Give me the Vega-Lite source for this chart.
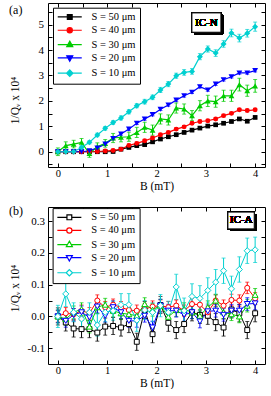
{
"$schema": "https://vega.github.io/schema/vega-lite/v6.json",
"background": "white",
"padding": {"left": 8, "top": 2, "right": 0, "bottom": 0},
"spacing": 12,
"resolve": {"scale": {"color": "independent", "fill": "independent", "stroke": "independent", "shape": "independent"}, "legend": {"color": "independent", "fill": "independent", "stroke": "independent", "shape": "independent"}},
"datasets": {
"a": [
{"B":0,"S":"50","v":0,"e":0.05},{"B":0.16,"S":"50","v":0,"e":0.05},{"B":0.32,"S":"50","v":0,"e":0.05},{"B":0.48,"S":"50","v":0,"e":0.05},{"B":0.64,"S":"50","v":0,"e":0.05},{"B":0.8,"S":"50","v":0,"e":0.05},{"B":0.96,"S":"50","v":0,"e":0.05},{"B":1.12,"S":"50","v":0.01,"e":0.05},{"B":1.28,"S":"50","v":0.1,"e":0.05},{"B":1.44,"S":"50","v":0.17,"e":0.05},{"B":1.6,"S":"50","v":0.24,"e":0.05},{"B":1.76,"S":"50","v":0.28,"e":0.05},{"B":1.92,"S":"50","v":0.39,"e":0.05},{"B":2.08,"S":"50","v":0.5,"e":0.05},{"B":2.24,"S":"50","v":0.59,"e":0.05},{"B":2.4,"S":"50","v":0.67,"e":0.05},{"B":2.56,"S":"50","v":0.76,"e":0.05},{"B":2.72,"S":"50","v":0.85,"e":0.05},{"B":2.88,"S":"50","v":0.93,"e":0.05},{"B":3.04,"S":"50","v":1.01,"e":0.05},{"B":3.2,"S":"50","v":1.06,"e":0.05},{"B":3.36,"S":"50","v":1.12,"e":0.05},{"B":3.52,"S":"50","v":1.19,"e":0.05},{"B":3.68,"S":"50","v":1.29,"e":0.05},{"B":3.84,"S":"50","v":1.2,"e":0.05},{"B":4,"S":"50","v":1.35,"e":0.05},
{"B":0,"S":"40","v":0,"e":0.05},{"B":0.16,"S":"40","v":0,"e":0.05},{"B":0.32,"S":"40","v":0,"e":0.05},{"B":0.48,"S":"40","v":0,"e":0.05},{"B":0.64,"S":"40","v":0,"e":0.05},{"B":0.8,"S":"40","v":0.01,"e":0.05},{"B":0.96,"S":"40","v":0.03,"e":0.05},{"B":1.12,"S":"40","v":0.05,"e":0.05},{"B":1.28,"S":"40","v":0.1,"e":0.05},{"B":1.44,"S":"40","v":0.25,"e":0.05},{"B":1.6,"S":"40","v":0.33,"e":0.05},{"B":1.76,"S":"40","v":0.43,"e":0.05},{"B":1.92,"S":"40","v":0.54,"e":0.05},{"B":2.08,"S":"40","v":0.67,"e":0.05},{"B":2.24,"S":"40","v":0.76,"e":0.05},{"B":2.4,"S":"40","v":0.89,"e":0.05},{"B":2.56,"S":"40","v":0.98,"e":0.05},{"B":2.72,"S":"40","v":1.12,"e":0.05},{"B":2.88,"S":"40","v":1.19,"e":0.05},{"B":3.04,"S":"40","v":1.22,"e":0.05},{"B":3.2,"S":"40","v":1.29,"e":0.05},{"B":3.36,"S":"40","v":1.42,"e":0.05},{"B":3.52,"S":"40","v":1.51,"e":0.05},{"B":3.68,"S":"40","v":1.65,"e":0.05},{"B":3.84,"S":"40","v":1.62,"e":0.05},{"B":4,"S":"40","v":1.65,"e":0.05},
{"B":0,"S":"30","v":0,"e":0.15},{"B":0.16,"S":"30","v":0.24,"e":0.15},{"B":0.32,"S":"30","v":0.3,"e":0.15},{"B":0.48,"S":"30","v":0.37,"e":0.15},{"B":0.64,"S":"30","v":-0.07,"e":0.15},{"B":0.8,"S":"30","v":0.2,"e":0.15},{"B":0.96,"S":"30","v":0.33,"e":0.15},{"B":1.12,"S":"30","v":0.54,"e":0.18},{"B":1.28,"S":"30","v":0.57,"e":0.18},{"B":1.44,"S":"30","v":0.59,"e":0.18},{"B":1.6,"S":"30","v":0.76,"e":0.2},{"B":1.76,"S":"30","v":0.96,"e":0.2},{"B":1.92,"S":"30","v":0.85,"e":0.2},{"B":2.08,"S":"30","v":1.29,"e":0.2},{"B":2.24,"S":"30","v":1.25,"e":0.2},{"B":2.4,"S":"30","v":1.72,"e":0.2},{"B":2.56,"S":"30","v":1.68,"e":0.2},{"B":2.72,"S":"30","v":1.42,"e":0.2},{"B":2.88,"S":"30","v":1.81,"e":0.2},{"B":3.04,"S":"30","v":2.0,"e":0.22},{"B":3.2,"S":"30","v":1.97,"e":0.22},{"B":3.36,"S":"30","v":2.2,"e":0.22},{"B":3.52,"S":"30","v":2.2,"e":0.22},{"B":3.68,"S":"30","v":2.64,"e":0.25},{"B":3.84,"S":"30","v":2.4,"e":0.22},{"B":4,"S":"30","v":2.59,"e":0.25},
{"B":0,"S":"20","v":0,"e":0.05},{"B":0.16,"S":"20","v":0,"e":0.05},{"B":0.32,"S":"20","v":0,"e":0.05},{"B":0.48,"S":"20","v":0,"e":0.05},{"B":0.64,"S":"20","v":0.04,"e":0.05},{"B":0.8,"S":"20","v":0.15,"e":0.05},{"B":0.96,"S":"20","v":0.3,"e":0.05},{"B":1.12,"S":"20","v":0.52,"e":0.05},{"B":1.28,"S":"20","v":0.7,"e":0.05},{"B":1.44,"S":"20","v":0.89,"e":0.05},{"B":1.6,"S":"20","v":1.12,"e":0.05},{"B":1.76,"S":"20","v":1.29,"e":0.05},{"B":1.92,"S":"20","v":1.46,"e":0.05},{"B":2.08,"S":"20","v":1.67,"e":0.05},{"B":2.24,"S":"20","v":1.84,"e":0.05},{"B":2.4,"S":"20","v":2.03,"e":0.05},{"B":2.56,"S":"20","v":2.2,"e":0.05},{"B":2.72,"S":"20","v":2.34,"e":0.05},{"B":2.88,"S":"20","v":2.56,"e":0.05},{"B":3.04,"S":"20","v":2.43,"e":0.05},{"B":3.2,"S":"20","v":2.66,"e":0.05},{"B":3.36,"S":"20","v":2.83,"e":0.05},{"B":3.52,"S":"20","v":2.95,"e":0.05},{"B":3.68,"S":"20","v":3.1,"e":0.05},{"B":3.84,"S":"20","v":3.1,"e":0.05},{"B":4,"S":"20","v":3.19,"e":0.05},
{"B":0,"S":"10","v":0,"e":0.06},{"B":0.16,"S":"10","v":0,"e":0.06},{"B":0.32,"S":"10","v":0,"e":0.06},{"B":0.48,"S":"10","v":0.17,"e":0.06},{"B":0.64,"S":"10","v":0.37,"e":0.06},{"B":0.8,"S":"10","v":0.66,"e":0.07},{"B":0.96,"S":"10","v":0.92,"e":0.07},{"B":1.12,"S":"10","v":1.15,"e":0.07},{"B":1.28,"S":"10","v":1.33,"e":0.08},{"B":1.44,"S":"10","v":1.57,"e":0.08},{"B":1.6,"S":"10","v":1.81,"e":0.08},{"B":1.76,"S":"10","v":1.97,"e":0.09},{"B":1.92,"S":"10","v":2.14,"e":0.09},{"B":2.08,"S":"10","v":2.43,"e":0.1},{"B":2.24,"S":"10","v":2.66,"e":0.1},{"B":2.4,"S":"10","v":2.99,"e":0.1},{"B":2.56,"S":"10","v":3.12,"e":0.11},{"B":2.72,"S":"10","v":3.16,"e":0.11},{"B":2.88,"S":"10","v":3.74,"e":0.12},{"B":3.04,"S":"10","v":4.04,"e":0.12},{"B":3.2,"S":"10","v":3.88,"e":0.13},{"B":3.36,"S":"10","v":4.24,"e":0.13},{"B":3.52,"S":"10","v":4.67,"e":0.15},{"B":3.68,"S":"10","v":4.47,"e":0.15},{"B":3.84,"S":"10","v":4.66,"e":0.15},{"B":4,"S":"10","v":4.92,"e":0.18}
],
"b": [
{"B":0,"S":"50","v":0,"e":0.027},{"B":0.16,"S":"50","v":-0.019,"e":0.027},{"B":0.32,"S":"50","v":-0.038,"e":0.027},{"B":0.48,"S":"50","v":-0.04,"e":0.027},{"B":0.64,"S":"50","v":-0.04,"e":0.027},{"B":0.8,"S":"50","v":-0.051,"e":0.027},{"B":0.96,"S":"50","v":-0.032,"e":0.027},{"B":1.12,"S":"50","v":-0.03,"e":0.027},{"B":1.28,"S":"50","v":-0.035,"e":0.027},{"B":1.44,"S":"50","v":-0.024,"e":0.027},{"B":1.6,"S":"50","v":-0.08,"e":0.027},{"B":1.76,"S":"50","v":0.02,"e":0.027},{"B":1.92,"S":"50","v":-0.056,"e":0.027},{"B":2.08,"S":"50","v":0.036,"e":0.027},{"B":2.24,"S":"50","v":-0.02,"e":0.027},{"B":2.4,"S":"50","v":-0.043,"e":0.027},{"B":2.56,"S":"50","v":-0.024,"e":0.027},{"B":2.72,"S":"50","v":0.013,"e":0.027},{"B":2.88,"S":"50","v":0.005,"e":0.027},{"B":3.04,"S":"50","v":0.002,"e":0.027},{"B":3.2,"S":"50","v":-0.018,"e":0.027},{"B":3.36,"S":"50","v":-0.035,"e":0.027},{"B":3.52,"S":"50","v":0.022,"e":0.027},{"B":3.68,"S":"50","v":0.01,"e":0.027},{"B":3.84,"S":"50","v":-0.043,"e":0.027},{"B":4,"S":"50","v":0.01,"e":0.027},
{"B":0,"S":"40","v":0,"e":0.018},{"B":0.16,"S":"40","v":0.01,"e":0.018},{"B":0.32,"S":"40","v":0.007,"e":0.018},{"B":0.48,"S":"40","v":0.018,"e":0.018},{"B":0.64,"S":"40","v":0.01,"e":0.018},{"B":0.8,"S":"40","v":0.05,"e":0.018},{"B":0.96,"S":"40","v":0.029,"e":0.018},{"B":1.12,"S":"40","v":0.037,"e":0.018},{"B":1.28,"S":"40","v":0.029,"e":0.018},{"B":1.44,"S":"40","v":0.02,"e":0.018},{"B":1.6,"S":"40","v":0.018,"e":0.018},{"B":1.76,"S":"40","v":0.023,"e":0.018},{"B":1.92,"S":"40","v":0.031,"e":0.018},{"B":2.08,"S":"40","v":0.034,"e":0.018},{"B":2.24,"S":"40","v":0.029,"e":0.018},{"B":2.4,"S":"40","v":0.034,"e":0.018},{"B":2.56,"S":"40","v":0.018,"e":0.018},{"B":2.72,"S":"40","v":0.039,"e":0.018},{"B":2.88,"S":"40","v":0.037,"e":0.018},{"B":3.04,"S":"40","v":0.013,"e":0.018},{"B":3.2,"S":"40","v":0.05,"e":0.018},{"B":3.36,"S":"40","v":0.034,"e":0.018},{"B":3.52,"S":"40","v":0.052,"e":0.018},{"B":3.68,"S":"40","v":0.05,"e":0.018},{"B":3.84,"S":"40","v":0.09,"e":0.018},{"B":4,"S":"40","v":0.057,"e":0.018},
{"B":0,"S":"30","v":0,"e":0.02},{"B":0.16,"S":"30","v":-0.008,"e":0.02},{"B":0.32,"S":"30","v":0.013,"e":0.02},{"B":0.48,"S":"30","v":0.023,"e":0.02},{"B":0.64,"S":"30","v":-0.032,"e":0.02},{"B":0.8,"S":"30","v":0.029,"e":0.02},{"B":0.96,"S":"30","v":0.037,"e":0.02},{"B":1.12,"S":"30","v":0.018,"e":0.02},{"B":1.28,"S":"30","v":0.01,"e":0.02},{"B":1.44,"S":"30","v":0.007,"e":0.02},{"B":1.6,"S":"30","v":0.002,"e":0.02},{"B":1.76,"S":"30","v":0.039,"e":0.02},{"B":1.92,"S":"30","v":0.021,"e":0.02},{"B":2.08,"S":"30","v":0.034,"e":0.02},{"B":2.24,"S":"30","v":-0.001,"e":0.02},{"B":2.4,"S":"30","v":0.02,"e":0.02},{"B":2.56,"S":"30","v":0.023,"e":0.02},{"B":2.72,"S":"30","v":0.013,"e":0.02},{"B":2.88,"S":"30","v":0.002,"e":0.02},{"B":3.04,"S":"30","v":0.029,"e":0.02},{"B":3.2,"S":"30","v":0.05,"e":0.02},{"B":3.36,"S":"30","v":0.013,"e":0.02},{"B":3.52,"S":"30","v":0.007,"e":0.02},{"B":3.68,"S":"30","v":0,"e":0.02},{"B":3.84,"S":"30","v":0.034,"e":0.02},{"B":4,"S":"30","v":0.068,"e":0.02},
{"B":0,"S":"20","v":0,"e":0.02},{"B":0.16,"S":"20","v":-0.014,"e":0.02},{"B":0.32,"S":"20","v":0.005,"e":0.02},{"B":0.48,"S":"20","v":0.013,"e":0.02},{"B":0.64,"S":"20","v":-0.003,"e":0.02},{"B":0.8,"S":"20","v":0.031,"e":0.02},{"B":0.96,"S":"20","v":0.002,"e":0.02},{"B":1.12,"S":"20","v":0.029,"e":0.02},{"B":1.28,"S":"20","v":0.013,"e":0.02},{"B":1.44,"S":"20","v":-0.014,"e":0.02},{"B":1.6,"S":"20","v":-0.014,"e":0.02},{"B":1.76,"S":"20","v":0.002,"e":0.02},{"B":1.92,"S":"20","v":-0.035,"e":0.02},{"B":2.08,"S":"20","v":0.034,"e":0.02},{"B":2.24,"S":"20","v":0.018,"e":0.02},{"B":2.4,"S":"20","v":0.018,"e":0.02},{"B":2.56,"S":"20","v":0.005,"e":0.02},{"B":2.72,"S":"20","v":0.013,"e":0.02},{"B":2.88,"S":"20","v":-0.016,"e":0.02},{"B":3.04,"S":"20","v":0.016,"e":0.02},{"B":3.2,"S":"20","v":0.018,"e":0.02},{"B":3.36,"S":"20","v":0.005,"e":0.02},{"B":3.52,"S":"20","v":0.018,"e":0.02},{"B":3.68,"S":"20","v":0.018,"e":0.02},{"B":3.84,"S":"20","v":0.039,"e":0.02},{"B":4,"S":"20","v":0.041,"e":0.02},
{"B":0,"S":"10","v":0,"e":0.035},{"B":0.16,"S":"10","v":0.071,"e":0.04},{"B":0.32,"S":"10","v":0.013,"e":0.03},{"B":0.48,"S":"10","v":-0.008,"e":0.03},{"B":0.64,"S":"10","v":0.013,"e":0.03},{"B":0.8,"S":"10","v":-0.027,"e":0.035},{"B":0.96,"S":"10","v":0.013,"e":0.03},{"B":1.12,"S":"10","v":0.018,"e":0.03},{"B":1.28,"S":"10","v":0.037,"e":0.035},{"B":1.44,"S":"10","v":0.037,"e":0.035},{"B":1.6,"S":"10","v":-0.012,"e":0.035},{"B":1.76,"S":"10","v":0.02,"e":0.03},{"B":1.92,"S":"10","v":0.013,"e":0.03},{"B":2.08,"S":"10","v":0.034,"e":0.035},{"B":2.24,"S":"10","v":0.013,"e":0.035},{"B":2.4,"S":"10","v":0.093,"e":0.04},{"B":2.56,"S":"10","v":0.018,"e":0.04},{"B":2.72,"S":"10","v":0.063,"e":0.04},{"B":2.88,"S":"10","v":0.057,"e":0.04},{"B":3.04,"S":"10","v":0.082,"e":0.04},{"B":3.2,"S":"10","v":0.108,"e":0.04},{"B":3.36,"S":"10","v":0.144,"e":0.04},{"B":3.52,"S":"10","v":0.087,"e":0.04},{"B":3.68,"S":"10","v":0.148,"e":0.04},{"B":3.84,"S":"10","v":0.207,"e":0.04},{"B":4,"S":"10","v":0.21,"e":0.04}
]
},
"vconcat": [
{
"width": 217, "height": 164,
"data": {"name": "a"},
"resolve": {"axis": {"x": "independent", "y": "independent"}},
"layer": [
{"mark": {"type": "rect", "color": "black"},
 "encoding": {"x": {"datum": -0.059, "type": "quantitative", "scale": {"domain": [-0.2, 4.2], "nice": false, "zero": false}, "axis": null}, "x2": {"datum": 1.49}, "y": {"datum": 5.58, "type": "quantitative", "scale": {"domain": [-0.6, 5.85], "nice": false, "zero": false}, "axis": null}, "y2": {"datum": 2.93}}},
{"mark": {"type": "rect", "color": "black"},
 "encoding": {"x": {"datum": 2.76, "type": "quantitative", "scale": {"domain": [-0.2, 4.2], "nice": false, "zero": false}, "axis": null}, "x2": {"datum": 3.35}, "y": {"datum": 5.38, "type": "quantitative", "scale": {"domain": [-0.6, 5.85], "nice": false, "zero": false}, "axis": null}, "y2": {"datum": 4.62}}},
{"mark": {"type": "rect", "fill": "white", "stroke": "black", "strokeWidth": 1},
 "encoding": {"x": {"datum": 2.718, "type": "quantitative", "scale": {"domain": [-0.2, 4.2], "nice": false, "zero": false}, "axis": null}, "x2": {"datum": 3.306}, "y": {"datum": 5.46, "type": "quantitative", "scale": {"domain": [-0.6, 5.85], "nice": false, "zero": false}, "axis": null}, "y2": {"datum": 4.7}}},
{"mark": {"type": "text", "text": "IC-N", "font": "Liberation Serif", "fontSize": 11, "color": "black", "align": "center", "baseline": "middle"},
 "encoding": {"x": {"datum": 3.012, "type": "quantitative", "scale": {"domain": [-0.2, 4.2], "nice": false, "zero": false}, "axis": null}, "y": {"datum": 5.08, "type": "quantitative", "scale": {"domain": [-0.6, 5.85], "nice": false, "zero": false}, "axis": null}}},
{"mark": {"type": "line", "strokeWidth": 1.2},
 "encoding": {
  "x": {"field": "B", "type": "quantitative", "scale": {"domain": [-0.2, 4.2], "nice": false, "zero": false},
        "axis": {"orient": "bottom", "values": [0, 0.5, 1, 1.5, 2, 2.5, 3, 3.5, 4], "labelExpr": "datum.value % 1 == 0 ? format(datum.value, 'd') : ''", "tickSize": -4, "labelPadding": 5, "labelFont": "Liberation Serif", "labelFontSize": 10.5, "title": "B (mT)", "titleFont": "Liberation Serif", "titleFontSize": 11.5, "titleY": 13, "titleBaseline": "top"}},
  "y": {"field": "v", "type": "quantitative", "scale": {"domain": [-0.6, 5.85], "nice": false, "zero": false},
        "axis": {"orient": "left", "values": [-0.5, 0, 0.5, 1, 1.5, 2, 2.5, 3, 3.5, 4, 4.5, 5, 5.5], "labelExpr": "datum.value % 1 == 0 ? format(datum.value, 'd') : ''", "tickSize": -4, "labelPadding": 8.5, "labelFont": "Liberation Serif", "labelFontSize": 11, "title": "1/Qᵥ x 10⁴", "titleFont": "Liberation Serif", "titleFontSize": 11.5, "titleX": -28, "titleY": 97, "titleAngle": -90, "titleBaseline": "bottom", "titleAlign": "center"}},
  "color": {"field": "S", "type": "nominal", "scale": {"domain": ["10", "20", "30", "40", "50"], "range": ["#00d0d0", "#0000ff", "#00cc00", "#ff0000", "#000000"]}, "legend": null}}},
{"mark": {"type": "errorbar", "ticks": {"size": 4, "thickness": 1}, "thickness": 1},
 "encoding": {
  "x": {"field": "B", "type": "quantitative", "scale": {"domain": [-0.2, 4.2], "nice": false, "zero": false}, "axis": null},
  "y": {"field": "v", "type": "quantitative", "scale": {"domain": [-0.6, 5.85], "nice": false, "zero": false}, "axis": null},
  "yError": {"field": "e"},
  "color": {"field": "S", "type": "nominal", "scale": {"domain": ["10", "20", "30", "40", "50"], "range": ["#00d0d0", "#0000ff", "#00cc00", "#ff0000", "#000000"]}, "legend": null}}},
{"transform": [{"filter": "datum.S == '50'"}], "mark": {"type": "point", "shape": "square", "size": 22, "filled": true, "opacity": 1},
 "encoding": {"x": {"field": "B", "type": "quantitative", "scale": {"domain": [-0.2, 4.2], "nice": false, "zero": false}, "axis": null}, "y": {"field": "v", "type": "quantitative", "scale": {"domain": [-0.6, 5.85], "nice": false, "zero": false}, "axis": null}, "color": {"field": "S", "type": "nominal", "scale": {"domain": ["10", "20", "30", "40", "50"], "range": ["#00d0d0", "#0000ff", "#00cc00", "#ff0000", "#000000"]}, "legend": null}}},
{"transform": [{"filter": "datum.S == '40'"}], "mark": {"type": "point", "shape": "circle", "size": 24, "filled": true, "opacity": 1},
 "encoding": {"x": {"field": "B", "type": "quantitative", "scale": {"domain": [-0.2, 4.2], "nice": false, "zero": false}, "axis": null}, "y": {"field": "v", "type": "quantitative", "scale": {"domain": [-0.6, 5.85], "nice": false, "zero": false}, "axis": null}, "color": {"field": "S", "type": "nominal", "scale": {"domain": ["10", "20", "30", "40", "50"], "range": ["#00d0d0", "#0000ff", "#00cc00", "#ff0000", "#000000"]}, "legend": null}}},
{"transform": [{"filter": "datum.S == '30'"}], "mark": {"type": "point", "shape": "triangle-up", "size": 34, "filled": true, "opacity": 1},
 "encoding": {"x": {"field": "B", "type": "quantitative", "scale": {"domain": [-0.2, 4.2], "nice": false, "zero": false}, "axis": null}, "y": {"field": "v", "type": "quantitative", "scale": {"domain": [-0.6, 5.85], "nice": false, "zero": false}, "axis": null}, "color": {"field": "S", "type": "nominal", "scale": {"domain": ["10", "20", "30", "40", "50"], "range": ["#00d0d0", "#0000ff", "#00cc00", "#ff0000", "#000000"]}, "legend": null}}},
{"transform": [{"filter": "datum.S == '20'"}], "mark": {"type": "point", "shape": "triangle-down", "size": 34, "filled": true, "opacity": 1},
 "encoding": {"x": {"field": "B", "type": "quantitative", "scale": {"domain": [-0.2, 4.2], "nice": false, "zero": false}, "axis": null}, "y": {"field": "v", "type": "quantitative", "scale": {"domain": [-0.6, 5.85], "nice": false, "zero": false}, "axis": null}, "color": {"field": "S", "type": "nominal", "scale": {"domain": ["10", "20", "30", "40", "50"], "range": ["#00d0d0", "#0000ff", "#00cc00", "#ff0000", "#000000"]}, "legend": null}}},
{"transform": [{"filter": "datum.S == '10'"}], "mark": {"type": "point", "shape": "diamond", "size": 36, "filled": true, "opacity": 1},
 "encoding": {"x": {"field": "B", "type": "quantitative", "scale": {"domain": [-0.2, 4.2], "nice": false, "zero": false}, "axis": null}, "y": {"field": "v", "type": "quantitative", "scale": {"domain": [-0.6, 5.85], "nice": false, "zero": false}, "axis": null}, "color": {"field": "S", "type": "nominal", "scale": {"domain": ["10", "20", "30", "40", "50"], "range": ["#00d0d0", "#0000ff", "#00cc00", "#ff0000", "#000000"]}, "legend": null}}},
{"transform": [{"filter": "datum.B > 99"}],
 "mark": {"type": "point", "filled": true, "opacity": 1},
 "encoding": {
  "x": {"field": "B", "type": "quantitative", "scale": {"domain": [-0.2, 4.2], "nice": false, "zero": false}, "axis": {"orient": "top", "values": [0, 0.5, 1, 1.5, 2, 2.5, 3, 3.5, 4], "labels": false, "tickSize": -4, "title": "(a)", "titleX": -39.4, "titleY": 1.5, "titleAngle": 0, "titleAlign": "left", "titleBaseline": "top", "titleFont": "Liberation Serif", "titleFontSize": 12}},
  "y": {"field": "v", "type": "quantitative", "scale": {"domain": [-0.6, 5.85], "nice": false, "zero": false}, "axis": {"orient": "right", "values": [-0.5, 0, 0.5, 1, 1.5, 2, 2.5, 3, 3.5, 4, 4.5, 5, 5.5], "labels": false, "tickSize": -4, "title": null}},
  "fill": {"field": "S", "type": "nominal", "scale": {"domain": ["50", "40", "30", "20", "10"], "range": ["#000000", "#ff0000", "#00cc00", "#0000ff", "#00d0d0"]},
    "legend": {"orient": "none", "legendX": 5, "legendY": 4.7, "title": null, "labelExpr": "'S = ' + datum.label + ' μm'", "symbolSize": 64, "symbolStrokeWidth": 1.2, "symbolOffset": 7.5, "labelOffset": 16.6, "labelFont": "Liberation Serif", "labelFontSize": 10.5, "labelColor": "black", "rowPadding": 2.3, "padding": 4, "strokeColor": "black", "fillColor": "white", "symbolOpacity": 1}},
  "stroke": {"field": "S", "type": "nominal", "scale": {"domain": ["50", "40", "30", "20", "10"], "range": ["#000000", "#ff0000", "#00cc00", "#0000ff", "#00d0d0"]},
    "legend": {"orient": "none", "legendX": 5, "legendY": 4.7, "title": null, "labelExpr": "'S = ' + datum.label + ' μm'", "symbolSize": 64, "symbolStrokeWidth": 1.2, "symbolOffset": 7.5, "labelOffset": 16.6, "labelFont": "Liberation Serif", "labelFontSize": 10.5, "labelColor": "black", "rowPadding": 2.3, "padding": 4, "strokeColor": "black", "fillColor": "white", "symbolOpacity": 1}},
  "shape": {"field": "S", "type": "nominal", "scale": {"domain": ["50", "40", "30", "20", "10"], "range": ["M-3,0H-0.6M0.6,0H3M-0.6,-0.6H0.6V0.6H-0.6Z", "M-3,0H-0.65M0.65,0H3M0.65,0A0.65,0.65,0,1,1,-0.65,0A0.65,0.65,0,1,1,0.65,0Z", "M-3,0H-0.45M0.45,0H3M0,-0.85L0.75,0.5H-0.75Z", "M-3,0H-0.45M0.45,0H3M0,0.85L0.75,-0.5H-0.75Z", "M-3,0H-0.8M0.8,0H3M0,-0.8L0.8,0L0,0.8L-0.8,0Z"]},
    "legend": {"orient": "none", "legendX": 5, "legendY": 4.7, "title": null, "labelExpr": "'S = ' + datum.label + ' μm'", "symbolSize": 64, "symbolStrokeWidth": 1.2, "symbolOffset": 7.5, "labelOffset": 16.6, "labelFont": "Liberation Serif", "labelFontSize": 10.5, "labelColor": "black", "rowPadding": 2.3, "padding": 4, "strokeColor": "black", "fillColor": "white", "symbolOpacity": 1}}}}
]
},
{
"width": 217, "height": 157,
"data": {"name": "b"},
"resolve": {"axis": {"x": "independent", "y": "independent"}},
"layer": [
{"mark": {"type": "rect", "color": "black"},
 "encoding": {"x": {"datum": -0.063, "type": "quantitative", "scale": {"domain": [-0.2, 4.2], "nice": false, "zero": false}, "axis": null}, "x2": {"datum": 1.49}, "y": {"datum": 0.335, "type": "quantitative", "scale": {"domain": [-0.15, 0.345], "nice": false, "zero": false}, "axis": null}, "y2": {"datum": 0.124}}},
{"mark": {"type": "rect", "color": "black"},
 "encoding": {"x": {"datum": 3.49, "type": "quantitative", "scale": {"domain": [-0.2, 4.2], "nice": false, "zero": false}, "axis": null}, "x2": {"datum": 4.02}, "y": {"datum": 0.3227, "type": "quantitative", "scale": {"domain": [-0.15, 0.345], "nice": false, "zero": false}, "axis": null}, "y2": {"datum": 0.2697}}},
{"mark": {"type": "rect", "fill": "white", "stroke": "black", "strokeWidth": 1},
 "encoding": {"x": {"datum": 3.448, "type": "quantitative", "scale": {"domain": [-0.2, 4.2], "nice": false, "zero": false}, "axis": null}, "x2": {"datum": 3.982}, "y": {"datum": 0.329, "type": "quantitative", "scale": {"domain": [-0.15, 0.345], "nice": false, "zero": false}, "axis": null}, "y2": {"datum": 0.276}}},
{"mark": {"type": "text", "text": "IC-A", "font": "Liberation Serif", "fontSize": 11, "color": "black", "align": "center", "baseline": "middle"},
 "encoding": {"x": {"datum": 3.715, "type": "quantitative", "scale": {"domain": [-0.2, 4.2], "nice": false, "zero": false}, "axis": null}, "y": {"datum": 0.3025, "type": "quantitative", "scale": {"domain": [-0.15, 0.345], "nice": false, "zero": false}, "axis": null}}},
{"mark": {"type": "line", "strokeWidth": 1},
 "encoding": {
  "x": {"field": "B", "type": "quantitative", "scale": {"domain": [-0.2, 4.2], "nice": false, "zero": false},
        "axis": {"orient": "bottom", "values": [0, 0.5, 1, 1.5, 2, 2.5, 3, 3.5, 4], "labelExpr": "datum.value % 1 == 0 ? format(datum.value, 'd') : ''", "tickSize": -4, "labelPadding": 5, "labelFont": "Liberation Serif", "labelFontSize": 10.5, "title": "B (mT)", "titleFont": "Liberation Serif", "titleFontSize": 11.5, "titleY": 13, "titleBaseline": "top"}},
  "y": {"field": "v", "type": "quantitative", "scale": {"domain": [-0.15, 0.345], "nice": false, "zero": false},
        "axis": {"orient": "left", "values": [-0.1, -0.05, 0, 0.05, 0.1, 0.15, 0.2, 0.25, 0.3], "labelExpr": "abs(datum.value*10 - round(datum.value*10)) < 0.001 ? (datum.value < -0.001 ? '-' : '') + format(abs(datum.value), '.1f') : ''", "tickSize": -4, "labelPadding": 7.5, "labelFont": "Liberation Serif", "labelFontSize": 11, "title": "1/Qᵥ x 10⁴", "titleFont": "Liberation Serif", "titleFontSize": 11.5, "titleX": -28, "titleY": 81, "titleAngle": -90, "titleBaseline": "bottom", "titleAlign": "center"}},
  "color": {"field": "S", "type": "nominal", "scale": {"domain": ["10", "20", "30", "40", "50"], "range": ["#00d0d0", "#0000ff", "#00cc00", "#ff0000", "#000000"]}, "legend": null}}},
{"mark": {"type": "errorbar", "ticks": {"size": 4, "thickness": 1}, "thickness": 1},
 "encoding": {
  "x": {"field": "B", "type": "quantitative", "scale": {"domain": [-0.2, 4.2], "nice": false, "zero": false}, "axis": null},
  "y": {"field": "v", "type": "quantitative", "scale": {"domain": [-0.15, 0.345], "nice": false, "zero": false}, "axis": null},
  "yError": {"field": "e"},
  "color": {"field": "S", "type": "nominal", "scale": {"domain": ["10", "20", "30", "40", "50"], "range": ["#00d0d0", "#0000ff", "#00cc00", "#ff0000", "#000000"]}, "legend": null}}},
{"transform": [{"filter": "datum.S == '50'"}], "mark": {"type": "point", "shape": "square", "size": 24, "filled": false, "fill": "white", "strokeWidth": 1, "opacity": 1},
 "encoding": {"x": {"field": "B", "type": "quantitative", "scale": {"domain": [-0.2, 4.2], "nice": false, "zero": false}, "axis": null}, "y": {"field": "v", "type": "quantitative", "scale": {"domain": [-0.15, 0.345], "nice": false, "zero": false}, "axis": null}, "color": {"field": "S", "type": "nominal", "scale": {"domain": ["10", "20", "30", "40", "50"], "range": ["#00d0d0", "#0000ff", "#00cc00", "#ff0000", "#000000"]}, "legend": null}}},
{"transform": [{"filter": "datum.S == '40'"}], "mark": {"type": "point", "shape": "circle", "size": 26, "filled": false, "fill": "white", "strokeWidth": 1, "opacity": 1},
 "encoding": {"x": {"field": "B", "type": "quantitative", "scale": {"domain": [-0.2, 4.2], "nice": false, "zero": false}, "axis": null}, "y": {"field": "v", "type": "quantitative", "scale": {"domain": [-0.15, 0.345], "nice": false, "zero": false}, "axis": null}, "color": {"field": "S", "type": "nominal", "scale": {"domain": ["10", "20", "30", "40", "50"], "range": ["#00d0d0", "#0000ff", "#00cc00", "#ff0000", "#000000"]}, "legend": null}}},
{"transform": [{"filter": "datum.S == '30'"}], "mark": {"type": "point", "shape": "triangle-up", "size": 34, "filled": false, "fill": "white", "strokeWidth": 1, "opacity": 1},
 "encoding": {"x": {"field": "B", "type": "quantitative", "scale": {"domain": [-0.2, 4.2], "nice": false, "zero": false}, "axis": null}, "y": {"field": "v", "type": "quantitative", "scale": {"domain": [-0.15, 0.345], "nice": false, "zero": false}, "axis": null}, "color": {"field": "S", "type": "nominal", "scale": {"domain": ["10", "20", "30", "40", "50"], "range": ["#00d0d0", "#0000ff", "#00cc00", "#ff0000", "#000000"]}, "legend": null}}},
{"transform": [{"filter": "datum.S == '20'"}], "mark": {"type": "point", "shape": "triangle-down", "size": 34, "filled": false, "fill": "white", "strokeWidth": 1, "opacity": 1},
 "encoding": {"x": {"field": "B", "type": "quantitative", "scale": {"domain": [-0.2, 4.2], "nice": false, "zero": false}, "axis": null}, "y": {"field": "v", "type": "quantitative", "scale": {"domain": [-0.15, 0.345], "nice": false, "zero": false}, "axis": null}, "color": {"field": "S", "type": "nominal", "scale": {"domain": ["10", "20", "30", "40", "50"], "range": ["#00d0d0", "#0000ff", "#00cc00", "#ff0000", "#000000"]}, "legend": null}}},
{"transform": [{"filter": "datum.S == '10'"}], "mark": {"type": "point", "shape": "diamond", "size": 38, "filled": false, "fill": "white", "strokeWidth": 1, "opacity": 1},
 "encoding": {"x": {"field": "B", "type": "quantitative", "scale": {"domain": [-0.2, 4.2], "nice": false, "zero": false}, "axis": null}, "y": {"field": "v", "type": "quantitative", "scale": {"domain": [-0.15, 0.345], "nice": false, "zero": false}, "axis": null}, "color": {"field": "S", "type": "nominal", "scale": {"domain": ["10", "20", "30", "40", "50"], "range": ["#00d0d0", "#0000ff", "#00cc00", "#ff0000", "#000000"]}, "legend": null}}},
{"transform": [{"filter": "datum.B > 99"}],
 "mark": {"type": "point", "filled": false, "opacity": 1},
 "encoding": {
  "x": {"field": "B", "type": "quantitative", "scale": {"domain": [-0.2, 4.2], "nice": false, "zero": false}, "axis": {"orient": "top", "values": [0, 0.5, 1, 1.5, 2, 2.5, 3, 3.5, 4], "labels": false, "tickSize": -4, "title": "(b)", "titleX": -39.4, "titleY": -1.5, "titleAngle": 0, "titleAlign": "left", "titleBaseline": "top", "titleFont": "Liberation Serif", "titleFontSize": 12}},
  "y": {"field": "v", "type": "quantitative", "scale": {"domain": [-0.15, 0.345], "nice": false, "zero": false}, "axis": {"orient": "right", "values": [-0.1, -0.05, 0, 0.05, 0.1, 0.15, 0.2, 0.25, 0.3], "labels": false, "tickSize": -4, "title": null}},
  "stroke": {"field": "S", "type": "nominal", "scale": {"domain": ["50", "40", "30", "20", "10"], "range": ["#000000", "#ff0000", "#00cc00", "#0000ff", "#00d0d0"]},
    "legend": {"orient": "none", "legendX": 4.6, "legendY": 1.1, "title": null, "labelExpr": "'S = ' + datum.label + ' μm'", "symbolSize": 64, "symbolStrokeWidth": 1.2, "symbolOffset": 7.5, "labelOffset": 16.6, "labelFont": "Liberation Serif", "labelFontSize": 10.5, "labelColor": "black", "rowPadding": 2.1, "padding": 4, "strokeColor": "black", "fillColor": "white", "symbolOpacity": 1}},
  "shape": {"field": "S", "type": "nominal", "scale": {"domain": ["50", "40", "30", "20", "10"], "range": ["M-3,0H-0.6M0.6,0H3M-0.6,-0.6H0.6V0.6H-0.6Z", "M-3,0H-0.65M0.65,0H3M0.65,0A0.65,0.65,0,1,1,-0.65,0A0.65,0.65,0,1,1,0.65,0Z", "M-3,0H-0.45M0.45,0H3M0,-0.85L0.75,0.5H-0.75Z", "M-3,0H-0.45M0.45,0H3M0,0.85L0.75,-0.5H-0.75Z", "M-3,0H-0.8M0.8,0H3M0,-0.8L0.8,0L0,0.8L-0.8,0Z"]},
    "legend": {"orient": "none", "legendX": 4.6, "legendY": 1.1, "title": null, "labelExpr": "'S = ' + datum.label + ' μm'", "symbolSize": 64, "symbolStrokeWidth": 1.2, "symbolOffset": 7.5, "labelOffset": 16.6, "labelFont": "Liberation Serif", "labelFontSize": 10.5, "labelColor": "black", "rowPadding": 2.1, "padding": 4, "strokeColor": "black", "fillColor": "white", "symbolOpacity": 1}}}}
]
}
],
"config": {
"font": "Liberation Serif",
"view": {"stroke": "black", "strokeWidth": 1},
"axis": {"domain": false, "grid": false, "tickColor": "black", "tickWidth": 1, "labelColor": "black", "titleColor": "black", "titleFontWeight": "normal"}
}
}
